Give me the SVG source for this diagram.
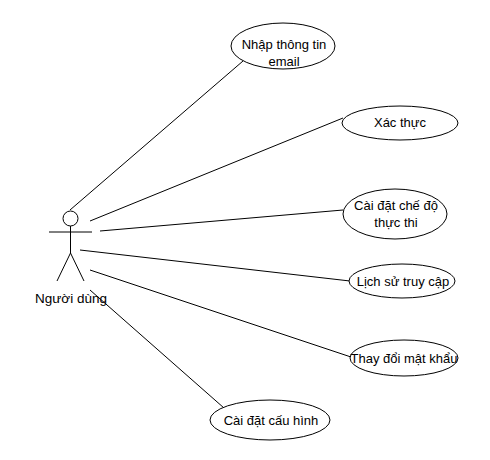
<svg xmlns="http://www.w3.org/2000/svg" width="490" height="460" viewBox="0 0 490 460">
<style>
.uc{fill:#fff;stroke:#000;stroke-width:1}
.ln{stroke:#000;stroke-width:1;fill:none}
text{font-family:"Liberation Sans",Arial,sans-serif;font-size:13px;fill:#000;text-anchor:middle}
</style>
<rect width="490" height="460" fill="#fff"/>
<g id="connectors" class="ln">
<line x1="70" y1="210" x2="243" y2="61"/>
<line x1="90" y1="221" x2="343" y2="118"/>
<line x1="100" y1="231" x2="343" y2="210"/>
<line x1="80" y1="250" x2="350" y2="281"/>
<line x1="90" y1="270" x2="351" y2="357"/>
<line x1="90" y1="290" x2="224" y2="408"/>
</g>
<g id="actor" class="ln">
<circle cx="70.5" cy="218.5" r="7.5" fill="#fff"/>
<line x1="70.5" y1="226" x2="70.5" y2="253"/>
<line x1="49" y1="232" x2="92" y2="232"/>
<line x1="70.5" y1="253" x2="57" y2="281"/>
<line x1="70.5" y1="253" x2="84" y2="281"/>
<text x="71" y="303" style="stroke:none;font-size:13.5px">Người dùng</text>
</g>
<g id="uc1"><ellipse class="uc" cx="283" cy="46" rx="52" ry="23"/><text x="284" y="49">Nhập thông tin</text><text x="284" y="66">email</text></g>
<g id="uc2"><ellipse class="uc" cx="400" cy="123" rx="58" ry="17"/><text x="400" y="127">Xác thực</text></g>
<g id="uc3"><ellipse class="uc" cx="395" cy="214" rx="52" ry="25"/><text x="396" y="210">Cài đặt chế độ</text><text x="396" y="227">thực thi</text></g>
<g id="uc4"><ellipse class="uc" cx="402" cy="281" rx="53" ry="17"/><text x="403" y="286">Lịch sử truy cập</text></g>
<g id="uc5"><ellipse class="uc" cx="404" cy="358" rx="54" ry="18"/><text x="404" y="363">Thay đổi mật khẩu</text></g>
<g id="uc6"><ellipse class="uc" cx="270" cy="420" rx="60" ry="20"/><text x="271" y="425">Cài đặt cấu hình</text></g>
</svg>
